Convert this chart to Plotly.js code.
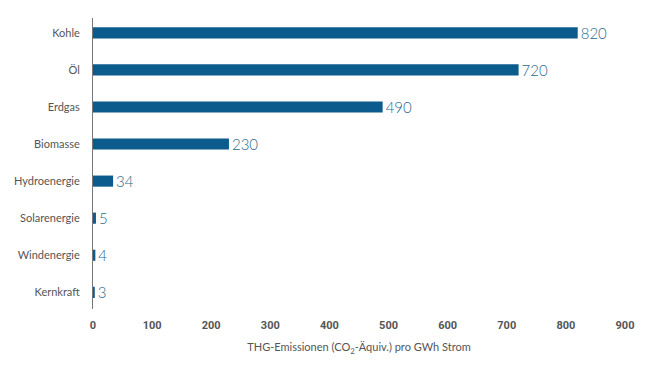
<!DOCTYPE html>
<html><head><meta charset="utf-8">
<script src="https://cdn.plot.ly/plotly-3.0.1.min.js"></script>
<style>html,body{margin:0;padding:0;background:#fff}#c{width:650px;height:374px}</style>
</head><body><div id="c"></div>
<script>
const categories = ["Kohle","Öl","Erdgas","Biomasse","Hydroenergie","Solarenergie","Windenergie","Kernkraft"];
const values = [820,720,490,230,34,5,4,3];
const xTicks = [0,100,200,300,400,500,600,700,800,900];

Plotly.newPlot('c',[{
  type:'bar', orientation:'h', y:categories, x:values,
  marker:{color:'#0b5c8c'}, width:0.3,
  text:values.map(String), textposition:'outside', cliponaxis:false, constraintext:'none',
  textfont:{family:'Lato, sans-serif', size:15, color:'#2a6a8c', weight:300},
  hoverinfo:'none'
}],{
  width:650,height:374,
  margin:{l:93,r:25,t:18,b:65},
  paper_bgcolor:'#fff',plot_bgcolor:'#fff',
  showlegend:false,
  xaxis:{range:[0,900],tickvals:xTicks,showgrid:false,zeroline:false,showline:false,
    ticks:'outside',ticklen:6,tickcolor:'rgba(0,0,0,0)',
    tickfont:{family:'Roboto, sans-serif',size:11,color:'#555',weight:'bold'},
    title:{text:'THG-Emissionen (CO<sub>2</sub>-Äquiv.) pro GWh Strom',standoff:12,
      font:{family:'Lato, sans-serif',size:11,color:'#555'}}},
  yaxis:{type:'category',range:[7.45,-0.4],showgrid:false,zeroline:false,
    showline:true,linecolor:'#777',linewidth:1,
    ticks:'outside',ticklen:10,tickcolor:'rgba(0,0,0,0)',
    tickfont:{family:'Lato, sans-serif',size:11,color:'#555'}}
},{displayModeBar:false,staticPlot:true});
</script></body></html>
